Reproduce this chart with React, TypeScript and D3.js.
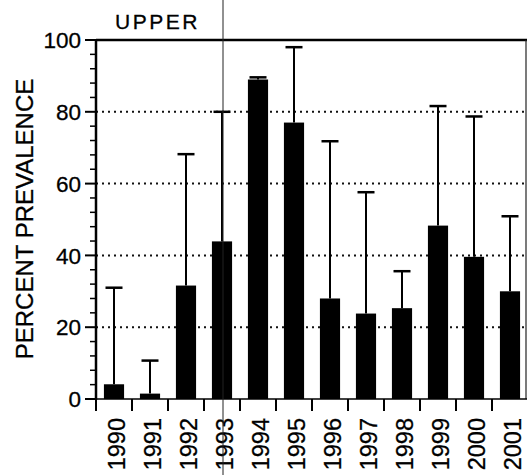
import React from "react";
import * as d3 from "d3";

const years = ["1990","1991","1992","1993","1994","1995","1996","1997","1998","1999","2000","2001"];
const prevalence = [4.1, 1.5, 31.6, 43.9, 89, 77, 28, 23.8, 25.3, 48.3, 39.6, 30];
const upperError = [31, 10.7, 68.2, 80, 89.6, 98, 71.8, 57.6, 35.6, 81.6, 78.7, 50.9];
const yTicks = [0, 20, 40, 60, 80, 100];
const gridValues = [20, 40, 60, 80];
const minorTicks = d3.range(0, 101, 4).filter((v) => v % 20 !== 0);

const W = 527, H = 475;
const left = 96, right = 527, top = 40, bottom = 399;
const font = "'Liberation Sans', Arial, Helvetica, sans-serif";

export default function App() {
  const x = d3.scaleBand<string>().domain(years).range([left, left + 36 * 12]).paddingInner(0.44).paddingOuter(0.22);
  const band = d3.scaleBand<string>().domain(years).range([left, left + 36 * 12]);
  const y = d3.scaleLinear().domain([0, 100]).range([bottom, top]);
  const capW = 17;
  return (
    <svg width={W} height={H} style={{ position: "absolute", left: 0, top: 0, background: "#fff" }}>
      {gridValues.map((v) => (
        <line key={"g" + v} x1={left} x2={right} y1={y(v)} y2={y(v)} stroke="#111" strokeWidth={2} strokeDasharray="2,4" />
      ))}
      <line x1={left} x2={right} y1={top} y2={top} stroke="#000" strokeWidth={2.5} />
      <line x1={right - 1} x2={right - 1} y1={top} y2={bottom} stroke="#222" strokeWidth={1.2} />
      {years.map((yr, i) => (
        <rect key={"b" + yr} x={x(yr)} y={y(prevalence[i])} width={x.bandwidth()} height={y(0) - y(prevalence[i])} fill="#000" />
      ))}
      {years.map((yr, i) => {
        const cx = (x(yr) as number) + x.bandwidth() / 2;
        return (
          <g key={"e" + yr}>
            <line x1={cx} x2={cx} y1={y(prevalence[i])} y2={y(upperError[i])} stroke="#000" strokeWidth={2} />
            <line x1={cx - capW / 2} x2={cx + capW / 2} y1={y(upperError[i])} y2={y(upperError[i])} stroke="#000" strokeWidth={2.5} />
          </g>
        );
      })}
      <line x1={left} x2={left} y1={top - 1} y2={bottom + 1} stroke="#000" strokeWidth={2.5} />
      {yTicks.map((v) => (
        <g key={"t" + v}>
          <line x1={left - 11} x2={left} y1={y(v)} y2={y(v)} stroke="#000" strokeWidth={2} />
          <text x={left - 15} y={y(v)} dy="0.36em" textAnchor="end" fontSize={22.5} fontFamily={font} fill="#000" stroke="#000" strokeWidth={0.3}>{v}</text>
        </g>
      ))}
      {minorTicks.map((v) => (
        <line key={"m" + v} x1={left - 6} x2={left} y1={y(v)} y2={y(v)} stroke="#000" strokeWidth={1.5} />
      ))}
      <line x1={left} x2={right} y1={bottom} y2={bottom} stroke="#000" strokeWidth={1.5} />
      {years.map((yr) => (
        <line key={"xt" + yr} x1={band(yr)} x2={band(yr)} y1={bottom} y2={bottom + 12} stroke="#000" strokeWidth={2} />
      ))}
      <line x1={left + 36 * 12} x2={left + 36 * 12} y1={bottom} y2={bottom + 12} stroke="#000" strokeWidth={2} />
      {years.map((yr) => {
        const cx = (band(yr) as number) + band.bandwidth() / 2 + 3;
        return (
          <text key={"xl" + yr} transform={`translate(${cx + 8},${bottom + 19}) rotate(-90)`} textAnchor="end" fontSize={23.5} fontFamily={font} fill="#000" stroke="#000" strokeWidth={0.3}>{yr}</text>
        );
      })}
      <text x={115} y={29} fontSize={21} letterSpacing={2.5} fontFamily={font} fill="#000" stroke="#000" strokeWidth={0.3}>UPPER</text>
      <text transform={`translate(33,219) rotate(-90)`} textAnchor="middle" fontSize={24} fontFamily={font} fill="#000" stroke="#000" strokeWidth={0.3}>PERCENT PREVALENCE</text>
      <line x1={223} x2={223} y1={0} y2={H} stroke="#222" strokeWidth={1} />
    </svg>
  );
}
